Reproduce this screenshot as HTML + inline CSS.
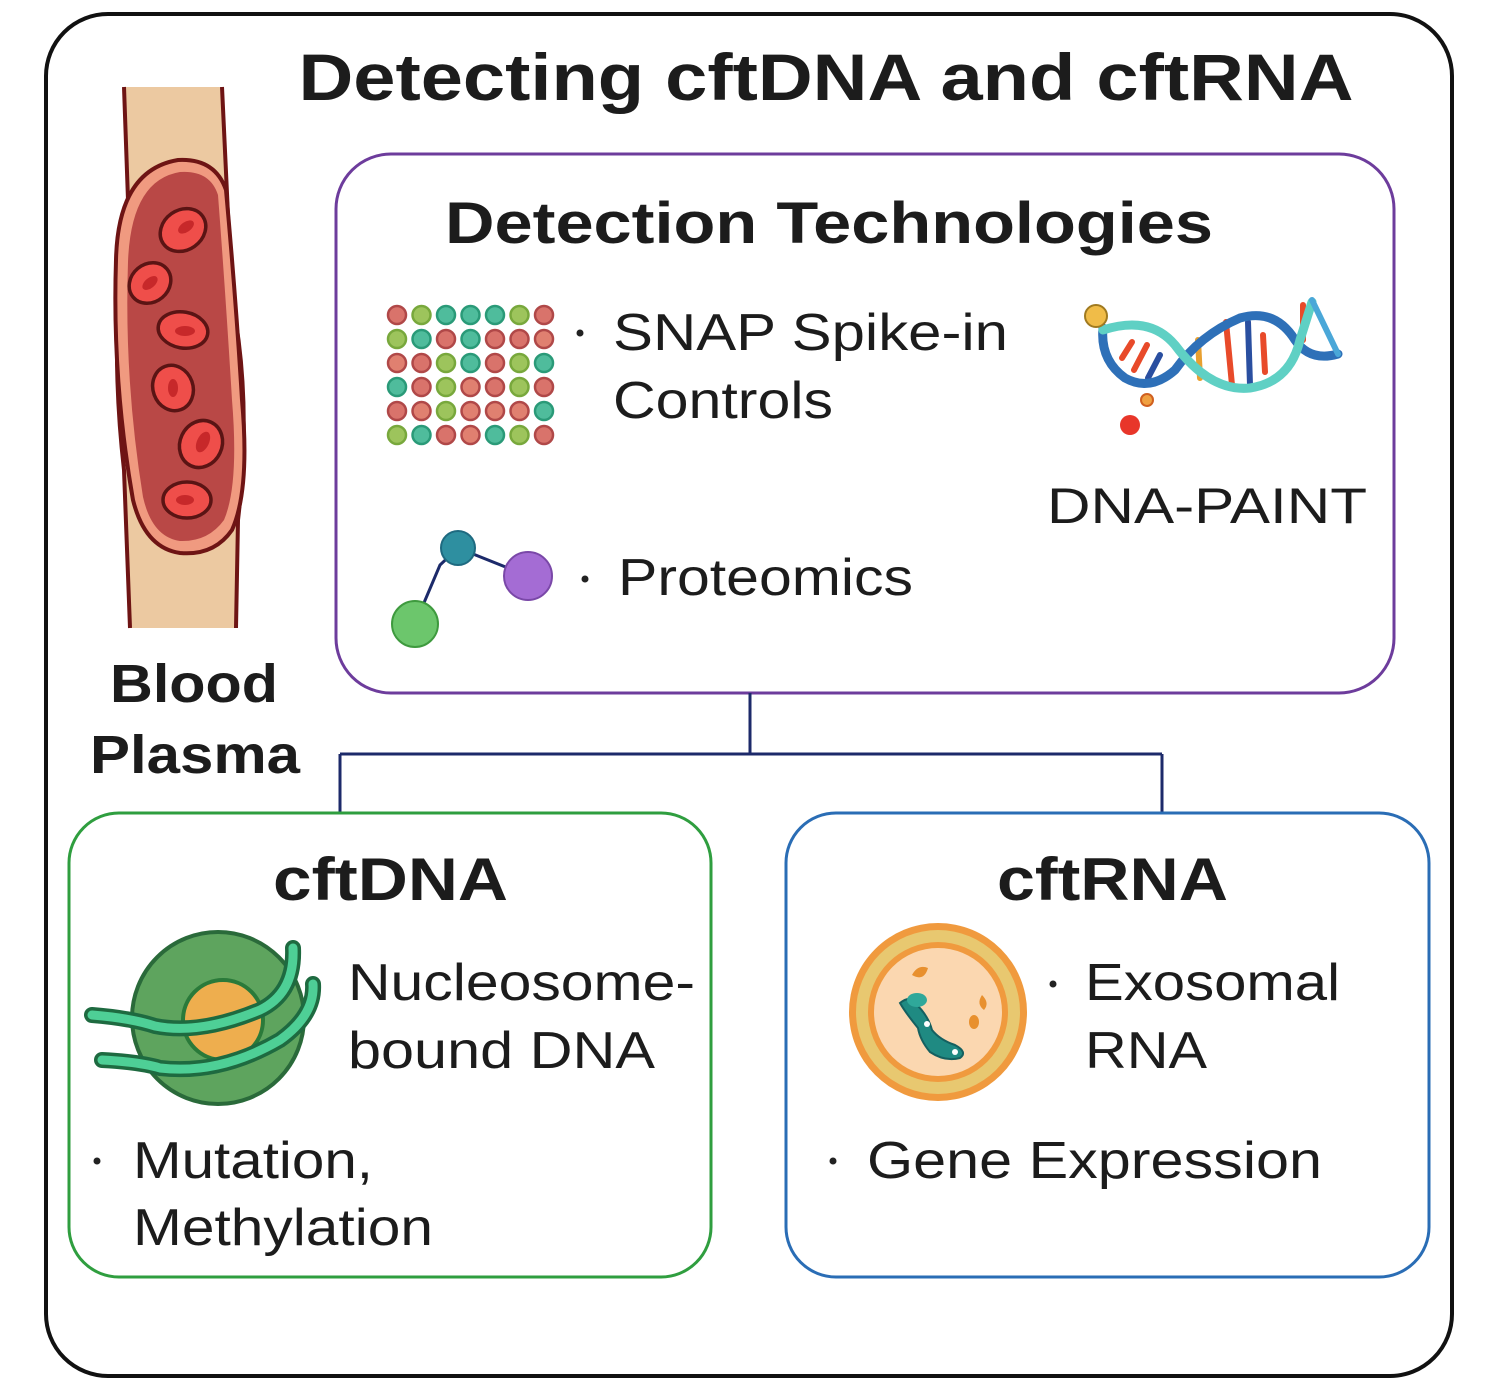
<!DOCTYPE html>
<html><head><meta charset="utf-8"><style>
html,body{margin:0;padding:0;background:#fff}
svg{display:block}
text{font-family:"Liberation Sans",sans-serif;fill:#1c1c1c}
.b{font-weight:bold}
</style></head><body>
<svg width="1500" height="1393" viewBox="0 0 1500 1393" xmlns="http://www.w3.org/2000/svg">
<rect x="46" y="14" width="1406" height="1362" rx="62" fill="#fff" stroke="#111" stroke-width="4"/>
<text x="826" y="100" font-size="66" class="b" text-anchor="middle" textLength="1055" lengthAdjust="spacingAndGlyphs">Detecting cftDNA and cftRNA</text>

<!-- vessel -->
<path d="M124 87 L128 200 Q108 330 124 470 L130 628 L236 628 L238 520 Q252 400 232 300 L222 87 Z" fill="#ecc9a1"/>
<path d="M124 87 L128 200 Q108 330 124 470 L130 628" fill="none" stroke="#6e1414" stroke-width="4"/>
<path d="M222 87 L232 300 Q252 400 238 520 L236 628" fill="none" stroke="#6e1414" stroke-width="4"/>
<path d="M178 160 Q215 158 226 190 Q236 300 242 400 Q250 490 232 530 Q214 556 180 553 Q145 548 133 500 Q112 380 116 260 Q118 170 178 160 Z" fill="#f09a80" stroke="#6e1414" stroke-width="4"/>
<path d="M180 172 Q210 170 218 195 Q226 300 232 400 Q239 485 224 520 Q208 542 180 541 Q152 537 143 497 Q124 380 128 262 Q131 180 180 172 Z" fill="#b94846"/>
<g stroke="#5a1414" stroke-width="3.5" fill="#ef4e4a">
<ellipse cx="183" cy="230" rx="24" ry="20" transform="rotate(-35 183 230)"/>
<ellipse cx="150" cy="283" rx="22" ry="19" transform="rotate(-40 150 283)"/>
<ellipse cx="183" cy="330" rx="25" ry="18" transform="rotate(10 183 330)"/>
<ellipse cx="173" cy="388" rx="20" ry="23" transform="rotate(-20 173 388)"/>
<ellipse cx="201" cy="444" rx="21" ry="24" transform="rotate(25 201 444)"/>
<ellipse cx="187" cy="500" rx="24" ry="18"/>
</g>
<g fill="#c7282a">
<ellipse cx="186" cy="227" rx="9" ry="5" transform="rotate(-35 186 227)"/>
<ellipse cx="150" cy="283" rx="9" ry="5" transform="rotate(-40 150 283)"/>
<ellipse cx="185" cy="331" rx="10" ry="5"/>
<ellipse cx="173" cy="388" rx="5" ry="9"/>
<ellipse cx="203" cy="442" rx="6" ry="11" transform="rotate(25 203 442)"/>
<ellipse cx="185" cy="500" rx="9" ry="5"/>
</g>
<text x="110" y="702" font-size="54" class="b" textLength="168" lengthAdjust="spacingAndGlyphs">Blood</text>
<text x="90" y="773" font-size="54" class="b" textLength="210" lengthAdjust="spacingAndGlyphs">Plasma</text>

<!-- purple box -->
<rect x="336" y="154" width="1058" height="539" rx="55" fill="#fff" stroke="#6d3c9c" stroke-width="3"/>
<text x="829" y="243" font-size="58" class="b" text-anchor="middle" textLength="768" lengthAdjust="spacingAndGlyphs">Detection Technologies</text>
<g stroke-width="2.5">
<g transform="translate(397,315)">
<circle cx="0" cy="0" r="9" fill="#d9736b" stroke="#b04848"/><circle cx="24.5" cy="0" r="9" fill="#9dc45c" stroke="#78a83c"/><circle cx="49" cy="0" r="9" fill="#4fbc9c" stroke="#2a9a78"/><circle cx="73.5" cy="0" r="9" fill="#4fbc9c" stroke="#2a9a78"/><circle cx="98" cy="0" r="9" fill="#4fbc9c" stroke="#2a9a78"/><circle cx="122.5" cy="0" r="9" fill="#9dc45c" stroke="#78a83c"/><circle cx="147" cy="0" r="9" fill="#d9736b" stroke="#b04848"/>
<circle cx="0" cy="24" r="9" fill="#9dc45c" stroke="#78a83c"/><circle cx="24.5" cy="24" r="9" fill="#4fbc9c" stroke="#2a9a78"/><circle cx="49" cy="24" r="9" fill="#d9736b" stroke="#b04848"/><circle cx="73.5" cy="24" r="9" fill="#4fbc9c" stroke="#2a9a78"/><circle cx="98" cy="24" r="9" fill="#d9736b" stroke="#b04848"/><circle cx="122.5" cy="24" r="9" fill="#d9736b" stroke="#b04848"/><circle cx="147" cy="24" r="9" fill="#e08070" stroke="#b04848"/>
<circle cx="0" cy="48" r="9" fill="#e08070" stroke="#b04848"/><circle cx="24.5" cy="48" r="9" fill="#d9736b" stroke="#b04848"/><circle cx="49" cy="48" r="9" fill="#9dc45c" stroke="#78a83c"/><circle cx="73.5" cy="48" r="9" fill="#4fbc9c" stroke="#2a9a78"/><circle cx="98" cy="48" r="9" fill="#d9736b" stroke="#b04848"/><circle cx="122.5" cy="48" r="9" fill="#9dc45c" stroke="#78a83c"/><circle cx="147" cy="48" r="9" fill="#4fbc9c" stroke="#2a9a78"/>
<circle cx="0" cy="72" r="9" fill="#4fbc9c" stroke="#2a9a78"/><circle cx="24.5" cy="72" r="9" fill="#d9736b" stroke="#b04848"/><circle cx="49" cy="72" r="9" fill="#9dc45c" stroke="#78a83c"/><circle cx="73.5" cy="72" r="9" fill="#e08070" stroke="#b04848"/><circle cx="98" cy="72" r="9" fill="#d9736b" stroke="#b04848"/><circle cx="122.5" cy="72" r="9" fill="#9dc45c" stroke="#78a83c"/><circle cx="147" cy="72" r="9" fill="#d9736b" stroke="#b04848"/>
<circle cx="0" cy="96" r="9" fill="#d9736b" stroke="#b04848"/><circle cx="24.5" cy="96" r="9" fill="#e08070" stroke="#b04848"/><circle cx="49" cy="96" r="9" fill="#9dc45c" stroke="#78a83c"/><circle cx="73.5" cy="96" r="9" fill="#e08070" stroke="#b04848"/><circle cx="98" cy="96" r="9" fill="#e08070" stroke="#b04848"/><circle cx="122.5" cy="96" r="9" fill="#e08070" stroke="#b04848"/><circle cx="147" cy="96" r="9" fill="#4fbc9c" stroke="#2a9a78"/>
<circle cx="0" cy="120" r="9" fill="#9dc45c" stroke="#78a83c"/><circle cx="24.5" cy="120" r="9" fill="#4fbc9c" stroke="#2a9a78"/><circle cx="49" cy="120" r="9" fill="#d9736b" stroke="#b04848"/><circle cx="73.5" cy="120" r="9" fill="#e08070" stroke="#b04848"/><circle cx="98" cy="120" r="9" fill="#4fbc9c" stroke="#2a9a78"/><circle cx="122.5" cy="120" r="9" fill="#9dc45c" stroke="#78a83c"/><circle cx="147" cy="120" r="9" fill="#d9736b" stroke="#b04848"/>
</g></g>
<circle cx="580" cy="333" r="3.5" fill="#222"/>
<text x="613" y="350" font-size="52" textLength="395" lengthAdjust="spacingAndGlyphs">SNAP Spike-in</text>
<text x="613" y="418" font-size="52" textLength="220" lengthAdjust="spacingAndGlyphs">Controls</text>

<!-- DNA -->
<g fill="none" stroke-linecap="round">
<g stroke-width="6">
<line x1="1122" y1="358" x2="1132" y2="342" stroke="#e84a2a"/><line x1="1134" y1="370" x2="1147" y2="345" stroke="#e84a2a"/><line x1="1148" y1="378" x2="1160" y2="355" stroke="#2a4fa0"/>
<line x1="1198" y1="340" x2="1200" y2="378" stroke="#e8a030"/><line x1="1226" y1="322" x2="1232" y2="385" stroke="#e84a2a"/><line x1="1248" y1="322" x2="1250" y2="385" stroke="#2a4fa0"/><line x1="1263" y1="335" x2="1265" y2="372" stroke="#e84a2a"/><line x1="1303" y1="305" x2="1303" y2="340" stroke="#e84a2a"/>
</g>
<path d="M1103 328 Q1100 360 1125 378 Q1150 392 1175 370 Q1200 335 1240 318 Q1275 308 1295 340 Q1310 362 1338 354" stroke="#2e70b8" stroke-width="9"/>
<path d="M1103 330 Q1150 315 1175 345 Q1210 392 1250 388 Q1290 382 1300 340 L1312 302" stroke="#5fd0c4" stroke-width="9"/>
<path d="M1312 300 L1338 354" stroke="#4aa7d8" stroke-width="6"/>
</g>
<circle cx="1096" cy="316" r="11" fill="#f0bc48" stroke="#a07a20" stroke-width="2"/>
<circle cx="1147" cy="400" r="6" fill="#f0a040" stroke="#d06020" stroke-width="2"/>
<circle cx="1130" cy="425" r="10" fill="#e8362a"/>
<text x="1047" y="523" font-size="50" textLength="320" lengthAdjust="spacingAndGlyphs">DNA-PAINT</text>

<!-- proteomics -->
<path d="M415 624 L440 565 L458 548 L528 576" fill="none" stroke="#1c2a6a" stroke-width="3"/>
<circle cx="458" cy="548" r="17" fill="#2e8fa0" stroke="#1e6a80" stroke-width="2"/>
<circle cx="528" cy="576" r="24" fill="#a46cd4" stroke="#7a48a8" stroke-width="2"/>
<circle cx="415" cy="624" r="23" fill="#6cc66c" stroke="#3e9a3e" stroke-width="2"/>
<circle cx="585" cy="579" r="3.5" fill="#222"/>
<text x="618" y="595" font-size="52" textLength="295" lengthAdjust="spacingAndGlyphs">Proteomics</text>

<!-- connectors -->
<path d="M750 693 V754 M340 754 H1162 M340 754 V812 M1162 754 V812" fill="none" stroke="#1c2a6a" stroke-width="3"/>

<!-- green box -->
<rect x="69" y="813" width="642" height="464" rx="50" fill="#fff" stroke="#2f9e3f" stroke-width="3"/>
<text x="273" y="900" font-size="60" class="b" textLength="235" lengthAdjust="spacingAndGlyphs">cftDNA</text>
<circle cx="218" cy="1018" r="86" fill="#5ea45e" stroke="#2a6a3a" stroke-width="4"/>
<circle cx="223" cy="1020" r="40" fill="#eeae4e" stroke="#2a7a3a" stroke-width="4"/>
<g fill="none" stroke-linecap="round">
<path d="M92 1015 Q130 1018 155 1026 Q200 1035 260 1010 Q295 993 293 948" stroke="#1e6a40" stroke-width="16"/>
<path d="M92 1015 Q130 1018 155 1026 Q200 1035 260 1010 Q295 993 293 948" stroke="#4ecf96" stroke-width="9"/>
<path d="M102 1060 Q140 1062 160 1068 Q220 1075 280 1040 Q315 1015 313 984" stroke="#1e6a40" stroke-width="16"/>
<path d="M102 1060 Q140 1062 160 1068 Q220 1075 280 1040 Q315 1015 313 984" stroke="#4ecf96" stroke-width="9"/>
</g>
<text x="348" y="1000" font-size="52" textLength="347" lengthAdjust="spacingAndGlyphs">Nucleosome-</text>
<text x="348" y="1068" font-size="52" textLength="307" lengthAdjust="spacingAndGlyphs">bound DNA</text>
<circle cx="97" cy="1161" r="3.5" fill="#222"/>
<text x="133" y="1178" font-size="52" textLength="240" lengthAdjust="spacingAndGlyphs">Mutation,</text>
<text x="133" y="1245" font-size="52" textLength="300" lengthAdjust="spacingAndGlyphs">Methylation</text>

<!-- blue box -->
<rect x="786" y="813" width="643" height="464" rx="50" fill="#fff" stroke="#2a6db5" stroke-width="3"/>
<text x="997" y="900" font-size="60" class="b" textLength="231" lengthAdjust="spacingAndGlyphs">cftRNA</text>
<circle cx="938" cy="1012" r="89" fill="#f09a3e"/>
<circle cx="938" cy="1012" r="82" fill="#e8c870"/>
<circle cx="938" cy="1012" r="70" fill="#f09a3e"/>
<circle cx="938" cy="1012" r="64" fill="#fbd7b0"/>
<path d="M900 1003 Q910 995 915 1003 Q928 1015 932 1030 Q940 1040 955 1045 Q968 1052 960 1058 Q945 1062 930 1052 Q920 1040 918 1028 Q905 1012 900 1003 Z" fill="#1f8a82" stroke="#156060" stroke-width="2"/>
<ellipse cx="917" cy="1000" rx="10" ry="7" fill="#2fa89a"/>
<circle cx="927" cy="1024" r="3" fill="#fff"/><circle cx="955" cy="1052" r="3" fill="#fff"/>
<path d="M912 975 Q918 964 928 968 Q924 982 912 975 Z" fill="#e8902e"/>
<path d="M982 995 Q990 1003 984 1010 Q976 1004 982 995 Z" fill="#e8902e"/>
<ellipse cx="974" cy="1022" rx="5" ry="7" fill="#e8902e"/>
<circle cx="1053" cy="984" r="3.5" fill="#222"/>
<text x="1085" y="1000" font-size="52" textLength="255" lengthAdjust="spacingAndGlyphs">Exosomal</text>
<text x="1085" y="1068" font-size="52" textLength="122" lengthAdjust="spacingAndGlyphs">RNA</text>
<circle cx="833" cy="1161" r="3.5" fill="#222"/>
<text x="867" y="1178" font-size="52" textLength="455" lengthAdjust="spacingAndGlyphs">Gene Expression</text>
</svg>
</body></html>
